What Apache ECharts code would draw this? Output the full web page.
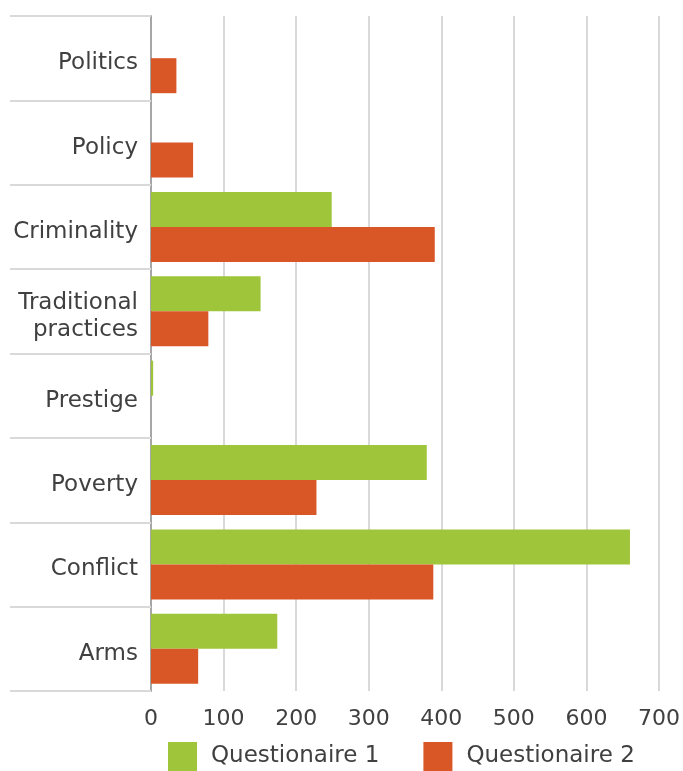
<!DOCTYPE html>
<html>
<head>
<meta charset="utf-8">
<script src="https://cdn.jsdelivr.net/npm/echarts@6/dist/echarts.min.js"></script>
<style>
  html, body { margin: 0; padding: 0; background: #fff; }
  #chart { width: 683px; height: 771px; }
</style>
</head>
<body>
<div id="chart"></div>
<script>
// categories top to bottom
const categories = ['Politics', 'Policy', 'Criminality', 'Traditional\npractices', 'Prestige', 'Poverty', 'Conflict', 'Arms']
const questionaire1 = [0, 0, 249, 151, 3, 380, 660, 174]
const questionaire2 = [35, 58, 391, 79, 0, 228, 389, 65]
const xTicks = [0, 100, 200, 300, 400, 500, 600, 700]

const chart = echarts.init(document.getElementById('chart'))

const option = {
  animation: false,
  textStyle: { fontFamily: '"DejaVu Sans", sans-serif' },
  grid: { left: 151, right: 24, top: 16, bottom: 80 },
  legend: {
    top: 742,
    left: 168,
    itemWidth: 29,
    itemHeight: 29,
    itemGap: 44,
    icon: 'rect',
    padding: 0,
    textStyle: { fontSize: 23, color: '#404040', padding: [0, 0, 0, 9] },
    data: ['Questionaire 1', 'Questionaire 2']
  },
  xAxis: {
    type: 'value',
    min: xTicks[0],
    max: xTicks[xTicks.length - 1],
    interval: 100,
    axisLine: { show: false },
    axisTick: { show: false },
    axisLabel: { fontSize: 22, color: '#404040', margin: 17 },
    splitLine: { lineStyle: { color: '#d9d9d9', width: 2 } }
  },
  yAxis: {
    type: 'category',
    inverse: true,
    data: categories,
    axisLine: { lineStyle: { color: '#a6a6a6', width: 2 } },
    axisTick: { show: true, length: 141, lineStyle: { color: '#d9d9d9', width: 2 } },
    axisLabel: {
      color: '#404040',
      margin: 13,
      // labels sit a bit below the band centre in the original
      formatter: (value) => value.split('\n').map(s => '{a|' + s + '}').join('\n') + '\n{gap|}',
      rich: {
        a: { fontSize: 23, lineHeight: 27, color: '#404040', fontFamily: '"DejaVu Sans", sans-serif' },
        gap: { fontSize: 1, lineHeight: 0 }
      },
      padding: [10, 0, 0, 0]
    }
  },
  series: [
    {
      name: 'Questionaire 1',
      type: 'bar',
      data: questionaire1,
      barGap: '0%',
      barCategoryGap: '17%',
      itemStyle: { color: '#9fc53b' }
    },
    {
      name: 'Questionaire 2',
      type: 'bar',
      data: questionaire2,
      barGap: '0%',
      barCategoryGap: '17%',
      itemStyle: { color: '#d95726' }
    }
  ]
}

chart.setOption(option)
</script>
</body>
</html>
